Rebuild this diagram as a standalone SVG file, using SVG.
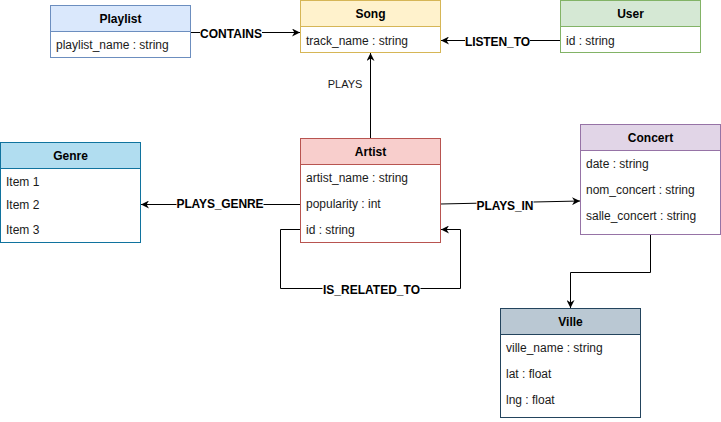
<svg xmlns="http://www.w3.org/2000/svg" width="721" height="422" viewBox="0 0 721 422">
<style>
text{font-family:"Liberation Sans",Arial,sans-serif;font-size:12px;fill:#1a1a1a}
.h{font-weight:bold;text-anchor:middle;fill:#000}
.lbl{font-weight:bold;text-anchor:middle;fill:#000}
.plain{font-size:11px;text-anchor:middle;fill:#1a1a1a}
.body{fill:#fff}
.e{fill:none;stroke:#000;stroke-width:1}
.bg{fill:#fff}
</style>
<defs>
<marker id="arr" viewBox="0 0 10 10" refX="10" refY="5" markerWidth="8" markerHeight="8" markerUnits="userSpaceOnUse" orient="auto">
<path d="M0,0 L10,5 L0,10 L3,5 Z" fill="#000"/>
</marker>
</defs>
<g id="connectors">
<path class="e" d="M190.5,32.5 H300" marker-end="url(#arr)"/>
<rect class="bg" x="200" y="26" width="62" height="14"/>
<text class="lbl" x="231" y="38" textLength="62">CONTAINS</text>
<path class="e" d="M560.5,40.5 H441" marker-end="url(#arr)"/>
<rect class="bg" x="465" y="34" width="65" height="14"/>
<text class="lbl" x="497.5" y="45.5" textLength="65">LISTEN_TO</text>
<path class="e" d="M370.5,138.5 V53" marker-end="url(#arr)"/>
<text class="plain" x="345" y="88">PLAYS</text>
<path class="e" d="M300.5,204.5 H141" marker-end="url(#arr)"/>
<rect class="bg" x="176.5" y="198" width="87" height="14"/>
<text class="lbl" x="220" y="207.5" textLength="87">PLAYS_GENRE</text>
<path class="e" d="M440.5,204 L580,201" marker-end="url(#arr)"/>
<rect class="bg" x="476.5" y="196" width="57" height="15"/>
<text class="lbl" x="505" y="210" textLength="57">PLAYS_IN</text>
<path class="e" d="M300.5,229.5 H280.5 V288.5 H460.5 V229.5 H441" marker-end="url(#arr)"/>
<rect class="bg" x="322.5" y="282" width="98" height="14"/>
<text class="lbl" x="371.5" y="293.5" textLength="97">IS_RELATED_TO</text>
<path class="e" d="M650.5,234.5 V272.5 H570.5 V308" marker-end="url(#arr)"/>
</g>
<g id="playlist">
<rect class="body" x="50.5" y="5.5" width="140" height="52" stroke="#6c8ebf"/>
<rect x="50.5" y="5.5" width="140" height="26" fill="#dae8fc" stroke="#6c8ebf"/>
<text class="h" x="120.5" y="22.5">Playlist</text>
<text x="56" y="48.5">playlist_name : string</text>
</g>
<g id="song">
<rect class="body" x="300.5" y="0.5" width="140" height="52" stroke="#d6b656"/>
<rect x="300.5" y="0.5" width="140" height="26" fill="#fff2cc" stroke="#d6b656"/>
<text class="h" x="370.5" y="17.5">Song</text>
<text x="306" y="44.5">track_name : string</text>
</g>
<g id="user">
<rect class="body" x="560.5" y="0.5" width="140" height="52" stroke="#82b366"/>
<rect x="560.5" y="0.5" width="140" height="26" fill="#d5e8d4" stroke="#82b366"/>
<text class="h" x="630.5" y="17.5">User</text>
<text x="566" y="44.5">id : string</text>
</g>
<g id="genre">
<rect class="body" x="0.5" y="142.5" width="140" height="100" stroke="#10739e"/>
<rect x="0.5" y="142.5" width="140" height="26" fill="#b1ddf0" stroke="#10739e"/>
<text class="h" x="70.5" y="159.5">Genre</text>
<text x="6" y="186">Item 1</text>
<text x="6" y="208.5">Item 2</text>
<text x="6" y="233.5">Item 3</text>
</g>
<g id="artist">
<rect class="body" x="300.5" y="138.5" width="140" height="104" stroke="#b85450"/>
<rect x="300.5" y="138.5" width="140" height="26" fill="#f8cecc" stroke="#b85450"/>
<text class="h" x="370.5" y="155.5">Artist</text>
<text x="306" y="182">artist_name : string</text>
<text x="306" y="207.5">popularity : int</text>
<text x="306" y="233.5">id : string</text>
</g>
<g id="concert">
<rect class="body" x="580.5" y="124.5" width="140" height="110" stroke="#9673a6"/>
<rect x="580.5" y="124.5" width="140" height="26" fill="#e1d5e7" stroke="#9673a6"/>
<text class="h" x="650.5" y="141.5">Concert</text>
<text x="586" y="168">date : string</text>
<text x="586" y="194">nom_concert : string</text>
<text x="586" y="220">salle_concert : string</text>
</g>
<g id="ville">
<rect class="body" x="500.5" y="308.5" width="140" height="109" stroke="#23445d"/>
<rect x="500.5" y="308.5" width="140" height="26" fill="#bac8d3" stroke="#23445d"/>
<text class="h" x="570.5" y="325.5">Ville</text>
<text x="506" y="352">ville_name : string</text>
<text x="506" y="378">lat : float</text>
<text x="506" y="403.5">lng : float</text>
</g>
</svg>
